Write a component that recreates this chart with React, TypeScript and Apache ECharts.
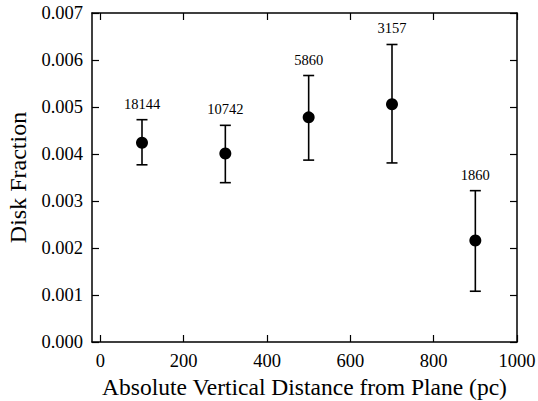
import React, { useEffect, useRef } from "react";
import * as echarts from "echarts";

const distances = [100, 300, 500, 700, 900];
const fractions = [0.00424, 0.00401, 0.00478, 0.00506, 0.00216];
const errLow = [0.00377, 0.00339, 0.00387, 0.00381, 0.00108];
const errHigh = [0.00473, 0.00461, 0.00567, 0.00633, 0.00322];
const counts = ["18144", "10742", "5860", "3157", "1860"];
const xTicks = [0, 200, 400, 600, 800, 1000];

const FONT = "Liberation Serif";

export default function App() {
  const ref = useRef<HTMLDivElement>(null);
  useEffect(() => {
    if (!ref.current) return;
    const chart = echarts.init(ref.current, null, { renderer: "svg" });
    const xCommon = {
      type: "value",
      min: -20,
      max: 1000,
      splitLine: { show: false },
      axisLine: { show: true, onZero: false, lineStyle: { color: "#000", width: 1.5 } },
      axisTick: {
        show: true,
        inside: true,
        length: 7,
        customValues: xTicks,
        lineStyle: { color: "#000", width: 1.2 },
      },
    };
    const yCommon = {
      type: "value",
      min: 0,
      max: 0.007,
      interval: 0.001,
      splitLine: { show: false },
      axisLine: { show: true, onZero: false, lineStyle: { color: "#000", width: 1.5 } },
      axisTick: { show: true, inside: true, length: 7, lineStyle: { color: "#000", width: 1.2 } },
    };
    chart.setOption({
      animation: false,
      backgroundColor: "#fff",
      grid: { left: 92, top: 13, right: 21, bottom: 59, containLabel: false, outerBoundsMode: "none" },
      xAxis: [
        {
          ...xCommon,
          position: "bottom",
          name: "Absolute Vertical Distance from Plane (pc)",
          nameLocation: "middle",
          nameGap: 31,
          nameTextStyle: { fontFamily: FONT, fontSize: 23.5, color: "#000" },
          axisLabel: {
            customValues: xTicks,
            margin: 9,
            fontFamily: FONT,
            fontSize: 18.5,
            color: "#000",
            formatter: (v: number) => String(v),
          },
        },
        { ...xCommon, position: "top", axisLabel: { show: false } },
      ],
      yAxis: [
        {
          ...yCommon,
          position: "left",
          name: "Disk Fraction",
          nameLocation: "middle",
          nameGap: 58,
          nameTextStyle: { fontFamily: FONT, fontSize: 24, color: "#000" },
          axisLabel: {
            margin: 9,
            fontFamily: FONT,
            fontSize: 18.5,
            color: "#000",
            formatter: (v: number) => v.toFixed(3),
          },
        },
        { ...yCommon, position: "right", axisLabel: { show: false } },
      ],
      series: [
        {
          type: "custom",
          xAxisIndex: 0,
          yAxisIndex: 0,
          data: distances.map((d, i) => [d, errLow[i], errHigh[i]]),
          renderItem: (params: any, api: any) => {
            const x = api.value(0);
            const pLo = api.coord([x, api.value(1)]);
            const pHi = api.coord([x, api.value(2)]);
            const cap = 5.5;
            const st = { stroke: "#000", lineWidth: 1.6 };
            return {
              type: "group",
              children: [
                { type: "line", shape: { x1: pLo[0], y1: pLo[1], x2: pHi[0], y2: pHi[1] }, style: st },
                { type: "line", shape: { x1: pLo[0] - cap, y1: pLo[1], x2: pLo[0] + cap, y2: pLo[1] }, style: st },
                { type: "line", shape: { x1: pHi[0] - cap, y1: pHi[1], x2: pHi[0] + cap, y2: pHi[1] }, style: st },
                {
                  type: "text",
                  x: pHi[0],
                  y: pHi[1] - 16,
                  style: {
                    text: counts[params.dataIndex],
                    fontFamily: FONT,
                    fontSize: 14.5,
                    fill: "#000",
                    align: "center",
                    verticalAlign: "middle",
                  },
                },
              ],
            };
          },
          z: 2,
        },
        {
          type: "scatter",
          xAxisIndex: 0,
          yAxisIndex: 0,
          data: distances.map((d, i) => [d, fractions[i]]),
          symbol: "circle",
          symbolSize: 12,
          itemStyle: { color: "#000", opacity: 1 },
          z: 3,
        },
      ],
    });
    return () => chart.dispose();
  }, []);
  return <div ref={ref} style={{ width: 538, height: 401, position: "absolute", left: 0, top: 0 }} />;
}
